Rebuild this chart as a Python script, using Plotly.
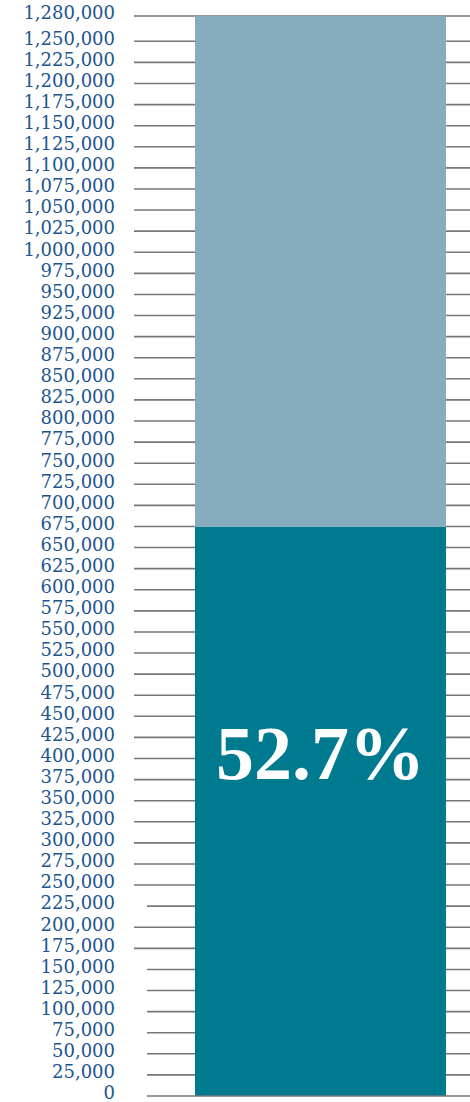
import plotly.graph_objects as go

# ---- data ----
goal = 1280000
raised_pct = 52.7
raised_values = [goal * raised_pct / 100]
remaining_values = [goal - goal * raised_pct / 100]
tick_values = list(range(0, 1275000, 25000)) + [1280000]
tick_labels = [f"{v:,}" for v in tick_values]
pct_label = f"{raised_pct}%"

# ---- style ----
dark = "#007a8f"
light = "#85adbd"
label_color = "#1c5590"
grid_color = "#777777"
short_grid_ticks = {0, 25000, 50000, 75000, 100000, 125000, 150000, 225000}

fig = go.Figure()
fig.add_trace(go.Bar(x=[0], y=raised_values, marker=dict(color=dark, line=dict(width=0)),
                     width=1, hoverinfo="skip", showlegend=False))
fig.add_trace(go.Bar(x=[0], y=remaining_values, marker=dict(color=light, line=dict(width=0)),
                     width=1, hoverinfo="skip", showlegend=False))

for v in tick_values:
    fig.add_shape(type="line", xref="paper", yref="y",
                  x0=(13 / 336) if v in short_grid_ticks else 0, x1=1, y0=v, y1=v,
                  line=dict(color=grid_color, width=1.6),
                  layer="above" if v == 0 else "below")

fig.add_annotation(x=0, y=0.318, xref="x", yref="paper", text=pct_label, showarrow=False,
                   font=dict(family="Liberation Serif", size=76, color="white", weight="bold"),
                   xanchor="center", yanchor="middle")

pad = 2 * goal / 1080
fig.update_layout(
    barmode="stack",
    width=470, height=1102,
    margin=dict(l=134, r=0, t=14, b=4, autoexpand=False),
    plot_bgcolor="white", paper_bgcolor="white",
    xaxis=dict(range=[-0.743, 0.596], showticklabels=False, showgrid=False,
               zeroline=False, showline=False, fixedrange=True),
    yaxis=dict(range=[-pad, goal + pad], tickvals=tick_values, ticktext=tick_labels,
               showgrid=False, zeroline=False, showline=False, ticks="",
               ticklabelstandoff=18, ticklabelshift=-3, ticklabeloverflow="allow",
               tickfont=dict(family="DejaVu Serif", size=18, color=label_color)),
)

fig.write_html("out.html", config={"displayModeBar": False},
               post_script="document.body.style.margin='0';document.body.style.overflow='hidden';")
